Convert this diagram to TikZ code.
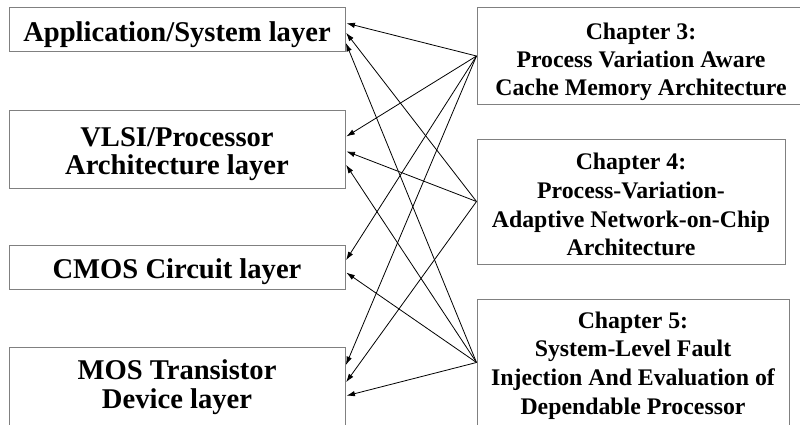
\documentclass[tikz,border=0pt]{standalone}
\usepackage{fontspec}
\setmainfont{Liberation Serif}
\usetikzlibrary{arrows.meta}
% invisible strut that sets the height of a box's first text line
\newcommand{\firstline}[1]{\rule{0pt}{#1}}
\begin{document}
\begin{tikzpicture}[x=1pt,y=1pt,
  layerbox/.style={draw=gray, line width=1pt, inner sep=0pt, align=center,
    minimum width=336pt, font=\bfseries\fontsize{28.6}{28.5}\selectfont},
  chapbox/.style={draw=gray, line width=1pt, inner sep=0pt, align=center,
    font=\bfseries\fontsize{23.8}{28.8}\selectfont},
  conn/.style={-{Latex[length=8.5pt,width=5.5pt]}, line width=0.8pt, black, shorten >=1pt}]
\useasboundingbox (0,0) rectangle (800,424);

% abstraction layers
\node[layerbox, minimum height=44pt] (app) at (177,394)
  {\firstline{28.5pt}Application/System layer};
\node[layerbox, minimum height=78pt] (vlsi) at (177,275)
  {\firstline{29.5pt}VLSI/Processor\\Architecture layer};
\node[layerbox, minimum height=44pt] (cmos) at (177,157)
  {\firstline{29.5pt}CMOS Circuit layer};
\node[layerbox, minimum height=79pt] (mos) at (177,37.5)
  {\firstline{21pt}MOS Transistor\\Device layer};

% chapters
\node[chapbox, minimum width=328pt, minimum height=96pt,
      font=\bfseries\fontsize{23.8}{28}\selectfont] (ch3) at (641,368)
  {\firstline{27.5pt}Chapter 3:\\Process Variation Aware\\Cache Memory Architecture};
\node[chapbox, minimum width=308pt, minimum height=125pt] (ch4) at (631,222.5)
  {\firstline{22.5pt}Chapter 4:\\Process-Variation-\\Adaptive Network-on-Chip\\Architecture};
\node[chapbox, minimum width=312pt, minimum height=127pt] (ch5) at (633,61.5)
  {\firstline{22.5pt}Chapter 5:\\System-Level Fault\\Injection And Evaluation of\\Dependable Processor};

% chapter 3 touches every layer
\draw[conn] (ch3.west) -- ([yshift=7pt]app.east);
\draw[conn] (ch3.west) -- ([yshift=12pt]vlsi.east);
\draw[conn] (ch3.west) -- ([yshift=6pt]cmos.east);
\draw[conn] (ch3.west) -- ([yshift=20.5pt]mos.east);

% chapter 4
\draw[conn] (ch4.west) -- ([yshift=-2pt]app.east);
\draw[conn] (ch4.west) -- ([yshift=-2pt]vlsi.east);
\draw[conn] (ch4.west) -- ([yshift=3.5pt]mos.east);

% chapter 5
\draw[conn] (ch5.west) -- ([yshift=-12pt]app.east);
\draw[conn] (ch5.west) -- ([yshift=-15pt]vlsi.east);
\draw[conn] (ch5.west) -- ([yshift=-5pt]cmos.east);
\draw[conn] (ch5.west) -- ([yshift=-9.5pt]mos.east);
\end{tikzpicture}
\end{document}
